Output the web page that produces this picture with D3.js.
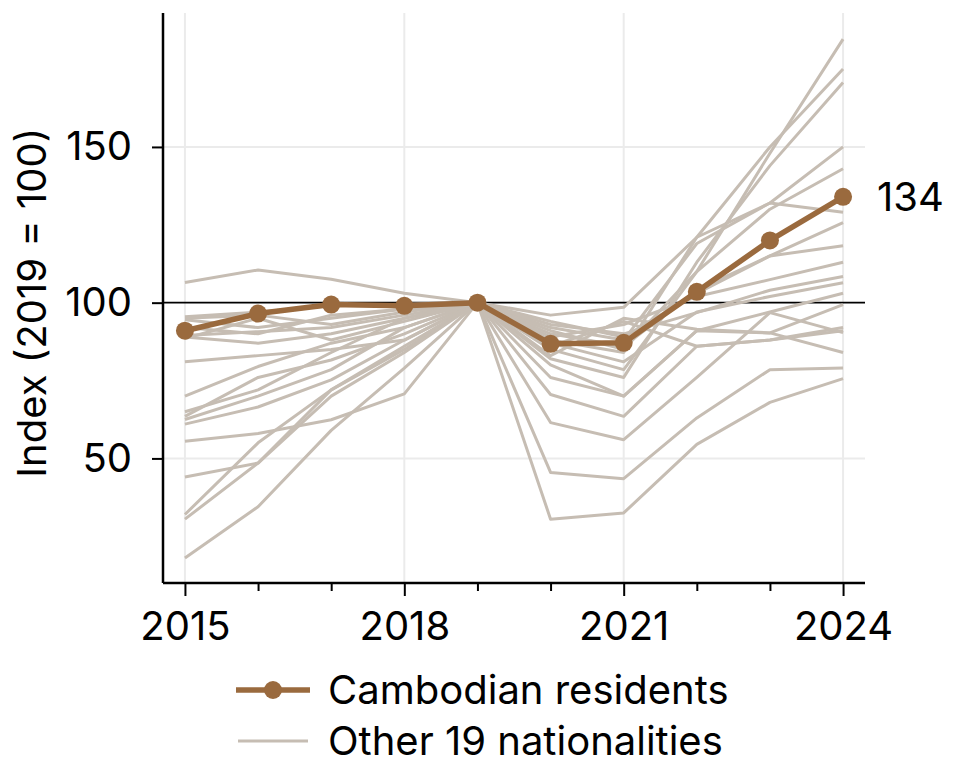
<!DOCTYPE html>
<html>
<head>
<meta charset="utf-8">
<script src="https://cdn.jsdelivr.net/npm/d3@7"></script>
<style>
  body { margin: 0; background: #fff; }
  svg { font-family: Inter, "Noto Sans", sans-serif; }
</style>
</head>
<body>
<svg id="chart" width="962" height="780"></svg>
<script>
// years on the x axis
const years = [2015, 2016, 2017, 2018, 2019, 2020, 2021, 2022, 2023, 2024];
const xTickLabels = [2015, 2018, 2021, 2024];
const yTickValues = [50, 100, 150];

// Cambodian residents, index 2019 = 100
const cambodia = [91, 96.5, 99.4, 99, 100, 86.8, 87.1, 103.5, 120, 134];

// the other 19 nationalities
const others = [
  [70, 79.5, 87, 92, 100, 85, 78.5, 110, 148, 184.6],
  [65, 72, 84, 95, 100, 88, 84, 121, 150, 175],
  [63.5, 76, 81.6, 90, 100, 82, 76, 113, 144, 170.7],
  [95.5, 97, 99, 99.5, 100, 92, 88, 119, 132, 150],
  [89.5, 90.7, 92, 96, 100, 91, 85, 110, 130, 143],
  [106.5, 110.5, 107.5, 103, 100, 96, 98.5, 121, 132, 129],
  [95, 96, 93, 97, 100, 94, 89, 103, 115, 125.7],
  [94.5, 92, 95, 98, 100, 90, 86, 104, 115, 118.3],
  [92, 90, 96, 98, 100, 89, 93, 102, 107.4, 113],
  [89, 87, 90, 95, 100, 93, 90, 96.8, 104, 108.4],
  [88.5, 95, 88, 94, 100, 87, 81, 97, 102, 106.4],
  [81, 83, 85, 88, 100, 80, 70, 91, 97, 103],
  [62.5, 70, 78.5, 92, 100, 83, 95, 91.5, 90.3, 99.4],
  [61, 66.5, 75.2, 88, 100, 86, 94, 86, 88, 91],
  [55.5, 58, 62.4, 70.7, 100, 70.5, 63.5, 86, 88, 92],
  [44, 48.5, 72, 85, 100, 76, 70, 91, 90.3, 84],
  [32, 55, 72, 86, 100, 45.5, 43.5, 63, 78.5, 79],
  [30.5, 48.5, 70, 84, 100, 61.5, 56, 76, 96.8, 90.4],
  [18, 34.5, 59, 79, 100, 30.5, 32.5, 54.5, 68, 75.6]
];

const legendLabels = ["Cambodian residents", "Other 19 nationalities"];

const brown = "#9a6a3e";
const grey = "#c6bdb3";
const fontSize = "40px";

const svg = d3.select("#chart");
const plotLeft = 163, plotRight = 865, plotTop = 13, plotBottom = 583;

const x = d3.scaleLinear().domain([2014.7, 2024.3]).range([plotLeft, plotRight]);
const y = d3.scaleLinear().domain([10, 193]).range([plotBottom, plotTop]);

// light grid
svg.append("g")
  .selectAll("line")
  .data(xTickLabels)
  .join("line")
    .attr("x1", d => x(d)).attr("x2", d => x(d))
    .attr("y1", plotTop).attr("y2", plotBottom)
    .attr("stroke", "#ebebeb").attr("stroke-width", 2);

svg.append("g")
  .selectAll("line")
  .data(yTickValues.filter(d => d !== 100))
  .join("line")
    .attr("x1", plotLeft).attr("x2", plotRight)
    .attr("y1", d => y(d)).attr("y2", d => y(d))
    .attr("stroke", "#ebebeb").attr("stroke-width", 2);

// reference line at 100
svg.append("line")
  .attr("x1", plotLeft).attr("x2", plotRight)
  .attr("y1", y(100)).attr("y2", y(100))
  .attr("stroke", "#000").attr("stroke-width", 1.8);

const line = d3.line()
  .x((d, i) => x(years[i]))
  .y(d => y(d));

// other nationalities
svg.append("g")
  .selectAll("path")
  .data(others)
  .join("path")
    .attr("d", line)
    .attr("fill", "none")
    .attr("stroke", grey)
    .attr("stroke-width", 3)
    .attr("stroke-linejoin", "round");

// Cambodia
svg.append("path")
  .datum(cambodia)
  .attr("d", line)
  .attr("fill", "none")
  .attr("stroke", brown)
  .attr("stroke-width", 5.5)
  .attr("stroke-linejoin", "round");

svg.append("g")
  .selectAll("circle")
  .data(cambodia)
  .join("circle")
    .attr("cx", (d, i) => x(years[i]))
    .attr("cy", d => y(d))
    .attr("r", 9)
    .attr("fill", brown);

svg.append("text")
  .attr("x", x(2024) + 34)
  .attr("y", y(cambodia[cambodia.length - 1]))
  .attr("dy", "0.36em")
  .style("font-size", fontSize)
  .text(Math.round(cambodia[cambodia.length - 1]));

// axes
const xAxis = d3.axisBottom(x)
  .tickValues(years)
  .tickSize(0)
  .tickFormat(d => xTickLabels.includes(d) ? d : "");

const gx = svg.append("g")
  .attr("transform", `translate(0,${plotBottom})`)
  .call(xAxis);
gx.select(".domain").attr("stroke", "#000").attr("stroke-width", 2.5)
  .attr("d", `M${plotLeft},0H${plotRight}`);
gx.selectAll(".tick line")
  .attr("stroke", "#000").attr("stroke-width", 2)
  .attr("y2", d => xTickLabels.includes(d) ? 13 : 8);
gx.selectAll(".tick text")
  .attr("y", 29)
  .attr("fill", "#000")
  .style("font-family", "Inter, 'Noto Sans', sans-serif")
  .style("font-size", fontSize);

const yAxis = d3.axisLeft(y)
  .tickValues(yTickValues)
  .tickSize(11)
  .tickPadding(20);

const gy = svg.append("g")
  .attr("transform", `translate(${plotLeft},0)`)
  .call(yAxis);
gy.select(".domain").attr("stroke", "#000").attr("stroke-width", 2.5)
  .attr("d", `M0,${plotTop}V${plotBottom}`);
gy.selectAll(".tick line").attr("stroke", "#000").attr("stroke-width", 2);
gy.selectAll(".tick text")
  .attr("fill", "#000")
  .style("font-family", "Inter, 'Noto Sans', sans-serif")
  .style("font-size", fontSize);

svg.append("text")
  .attr("transform", `translate(46,${y(100)}) rotate(-90)`)
  .attr("text-anchor", "middle")
  .style("font-size", fontSize)
  .text("Index (2019 = 100)");

// legend
const legend = svg.append("g");
const lg1 = legend.append("g").attr("transform", "translate(236,690)");
lg1.append("line").attr("x1", 0).attr("x2", 74).attr("stroke", brown).attr("stroke-width", 5.5);
lg1.append("circle").attr("cx", 37).attr("r", 9).attr("fill", brown);
lg1.append("text").attr("x", 92).attr("dy", "0.36em").style("font-size", fontSize).text(legendLabels[0]);

const lg2 = legend.append("g").attr("transform", "translate(236,741)");
lg2.append("line").attr("x1", 2).attr("x2", 72).attr("stroke", grey).attr("stroke-width", 3);
lg2.append("text").attr("x", 92).attr("dy", "0.36em").style("font-size", fontSize).text(legendLabels[1]);
</script>
</body>
</html>
